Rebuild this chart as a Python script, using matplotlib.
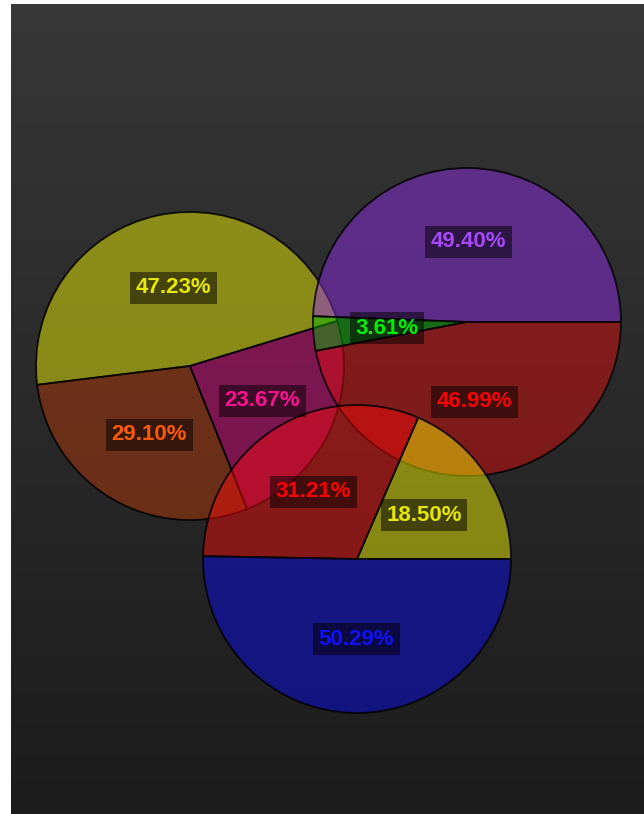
#!/usr/bin/env python3
"""
Three overlapping translucent pie charts on a dark gradient panel.
"""

import matplotlib
matplotlib.use("Agg")
import matplotlib.pyplot as plt
import numpy as np


LEFT_VALUES = [47.23, 29.10, 23.67]
LEFT_WEDGE_COLORS = ["#ffff00", "#c03a08", "#e0007f"]
LEFT_TEXT_COLORS = ["#e8e800", "#ff5a00", "#ff1090"]

RIGHT_VALUES = [49.40, 3.61, 46.99]
RIGHT_WEDGE_COLORS = ["#962cf4", "#00bc00", "#e80a0a"]
RIGHT_TEXT_COLORS = ["#a848ff", "#00f000", "#ff0000"]

BOTTOM_VALUES = [18.50, 31.21, 50.29]
BOTTOM_WEDGE_COLORS = ["#ffff00", "#ff0a0a", "#0808f8"]
BOTTOM_TEXT_COLORS = ["#e8e800", "#ff0000", "#1010ff"]

W, H = 644, 814
RADIUS = 154
WEDGE_ALPHA = 0.45


def draw_background(fig):
    bg = fig.add_axes([11 / W, 0, 1 - 11 / W, 810 / H])
    grad = np.linspace(0, 1, 256).reshape(-1, 1)
    top = np.array([0x37, 0x37, 0x37]) / 255
    bottom = np.array([0x1c, 0x1c, 0x1c]) / 255
    img = top + (bottom - top) * grad[:, :, None]
    bg.imshow(img, aspect="auto", extent=(0, 1, 0, 1))
    bg.set_axis_off()


def draw_pie(ax, values, wedge_colors, text_colors, center, startangle):
    faces = [matplotlib.colors.to_rgba(c, WEDGE_ALPHA) for c in wedge_colors]
    wedges, _, autotexts = ax.pie(
        values,
        colors=faces,
        center=center,
        radius=RADIUS,
        startangle=startangle,
        autopct="%.2f%%",
        pctdistance=0.52,
        wedgeprops={"edgecolor": (0, 0, 0, 0.85), "linewidth": 1.3},
        textprops={"fontsize": 16, "fontweight": "bold", "family": "Liberation Sans"},
    )
    for txt, col in zip(autotexts, text_colors):
        txt.set_color(col)
        txt.set_bbox({"facecolor": "black", "alpha": 0.5, "edgecolor": "none", "pad": 4})
    return wedges


def main():
    fig = plt.figure(figsize=(W / 100, H / 100), dpi=100, facecolor="white")
    draw_background(fig)

    ax = fig.add_axes([0, 0, 1, 1])
    draw_pie(ax, LEFT_VALUES, LEFT_WEDGE_COLORS, LEFT_TEXT_COLORS, (190, H - 366), 17)
    draw_pie(ax, RIGHT_VALUES, RIGHT_WEDGE_COLORS, RIGHT_TEXT_COLORS, (467, H - 322), 0)
    draw_pie(ax, BOTTOM_VALUES, BOTTOM_WEDGE_COLORS, BOTTOM_TEXT_COLORS, (357, H - 559), 0)

    ax.set_xlim(0, W)
    ax.set_ylim(0, H)
    ax.set_aspect("equal")
    ax.set_axis_off()

    fig.savefig("out.png", dpi=100)
    plt.close(fig)


if __name__ == "__main__":
    main()
